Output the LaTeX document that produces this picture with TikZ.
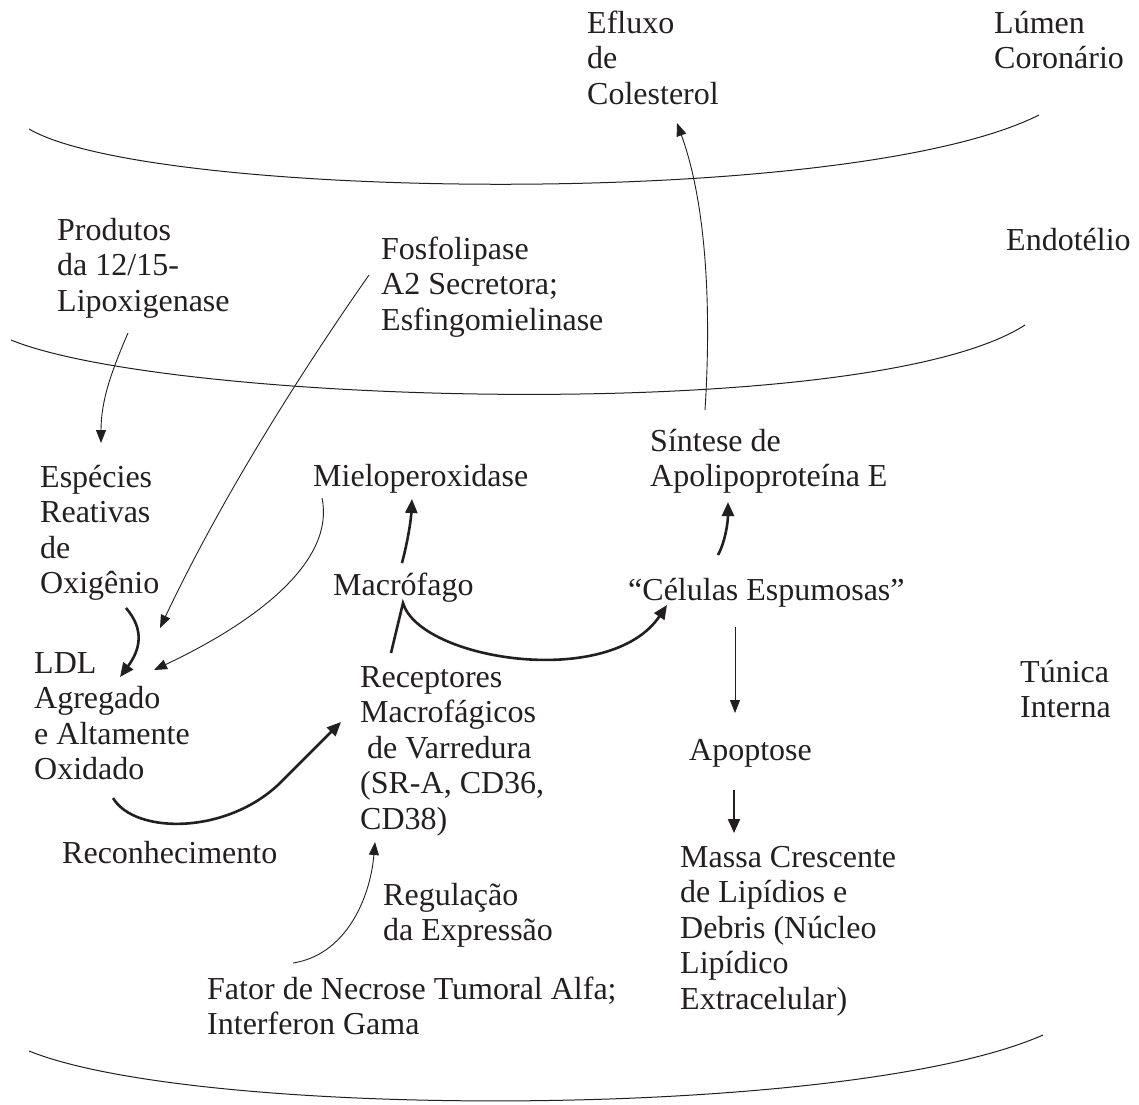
\documentclass[tikz,border=0pt]{standalone}
\usepackage{fontspec}
\setmainfont{Liberation Serif}
\usetikzlibrary{arrows.meta}
\definecolor{ink}{RGB}{35,31,32}
\newcommand{\mlines}[1]{\begin{tabular}[t]{@{}l@{}}#1\end{tabular}}
\begin{document}
\begin{tikzpicture}[x=1pt,y=-1pt,
  lbl/.style={anchor=base west, inner sep=0pt, text=ink, font=\fontsize{32}{35.5}\selectfont},
  thinarrow/.style={draw=ink, line width=0.9pt, -{Triangle[length=13pt,width=10pt]}},
  thickarrow/.style={draw=ink, line width=2.6pt, -{Triangle[length=14pt,width=12pt]}},
  layer/.style={draw=ink, line width=1pt}]
\useasboundingbox (0,0) rectangle (1139,1104);

% layer boundaries
\draw[layer] (29,129) .. controls (150,200) and (850,210) .. (1039,115);
\draw[layer] (11,340) .. controls (170,405) and (870,425) .. (1025,325);
\draw[layer] (29,1051) .. controls (200,1120) and (850,1120) .. (1043,1035);

% labels
\node[lbl] (eflux) at (587,33) {\mlines{Efluxo\\de\\Colesterol}};
\node[lbl] (lumen) at (994,33) {\mlines{Lúmen\\Coronário}};
\node[lbl] (prod) at (57,240) {\mlines{Produtos\\da 12/15-\\Lipoxigenase}};
\node[lbl] (fosfo) at (381,259) {\mlines{Fosfolipase\\A2 Secretora;\\Esfingomielinase}};
\node[lbl] (endo) at (1006,250) {Endotélio};
\node[lbl] (espec) at (40,487) {\mlines{Espécies\\Reativas\\de\\Oxigênio}};
\node[lbl] (mielo) at (313,486) {Mieloperoxidase};
\node[lbl] (sintese) at (650,451) {\mlines{Síntese de\\Apolipoproteína E}};
\node[lbl] (macro) at (333,595) {Macrófago};
\node[lbl] (celulas) at (628,600) {“Células Espumosas”};
\node[lbl] (ldl) at (34,673) {\mlines{LDL\\Agregado\\e Altamente\\Oxidado}};
\node[lbl] (recep) at (360,687) {\mlines{Receptores\\Macrofágicos\\\hspace{7pt}de Varredura\\(SR-A, CD36,\\CD38)}};
\node[lbl] (tunica) at (1020,682) {\mlines{Túnica\\Interna}};
\node[lbl] (apop) at (689,760) {Apoptose};
\node[lbl] (recon) at (62,863) {Reconhecimento};
\node[lbl] (regul) at (383,905) {\mlines{Regulação\\da Expressão}};
\node[lbl] (massa) at (680,867) {\mlines{Massa Crescente\\de Lipídios e\\Debris (Núcleo\\Lipídico\\Extracelular)}};
\node[lbl] (fator) at (207,999) {\mlines{Fator de Necrose Tumoral Alfa;\\Interferon Gama}};

% connector end points
\coordinate (prod-out) at (128,333);
\coordinate (espec-in) at (101,443);
\coordinate (fosfo-out) at (369,275);
\coordinate (ldl-in1) at (160,628);
\coordinate (mielo-out) at (322,498);
\coordinate (ldl-in2) at (154,670);
\coordinate (espec-out) at (126,608);
\coordinate (ldl-in0) at (120,677);
\coordinate (macro-out) at (402,563);
\coordinate (mielo-in) at (412,499);
\coordinate (recep-out) at (391,653);
\coordinate (macro-pt) at (403,603);
\coordinate (celulas-in) at (667,605);
\coordinate (celulas-out) at (718,555);
\coordinate (sintese-in) at (728,502);
\coordinate (sintese-out) at (705,410);
\coordinate (eflux-in) at (677,123);
\coordinate (celulas-down) at (735,627);
\coordinate (apop-in) at (735,713);
\coordinate (apop-out) at (734,790);
\coordinate (massa-in) at (734,833);
\coordinate (ldl-out) at (113,798);
\coordinate (recon-pt) at (283,780);
\coordinate (recep-in) at (341,722);
\coordinate (fator-out) at (293,963);
\coordinate (recep-in2) at (375,842);

% connectors
\draw[thinarrow] (prod-out) .. controls (112,370) and (101,400) .. (espec-in);
\draw[thinarrow] (fosfo-out) .. controls (320,345) and (230,480) .. (ldl-in1);
\draw[thinarrow] (mielo-out) .. controls (335,560) and (260,620) .. (ldl-in2);
\draw[thickarrow] (espec-out) .. controls (145,630) and (140,650) .. (ldl-in0);
\draw[thickarrow] (macro-out) .. controls (408,540) and (411,520) .. (mielo-in);
\draw[thickarrow] (recep-out) -- (macro-pt) .. controls (420,660) and (610,690) .. (celulas-in);
\draw[thickarrow] (celulas-out) .. controls (726,540) and (728,520) .. (sintese-in);
\draw[thinarrow] (sintese-out) .. controls (712,300) and (705,200) .. (eflux-in);
\draw[thinarrow] (celulas-down) -- (apop-in);
\draw[thickarrow, line width=2pt] (apop-out) -- (massa-in);
\draw[thickarrow] (ldl-out) .. controls (135,835) and (230,835) .. (recon-pt) -- (recep-in);
\draw[thinarrow] (fator-out) .. controls (345,955) and (370,900) .. (recep-in2);
\end{tikzpicture}
\end{document}
